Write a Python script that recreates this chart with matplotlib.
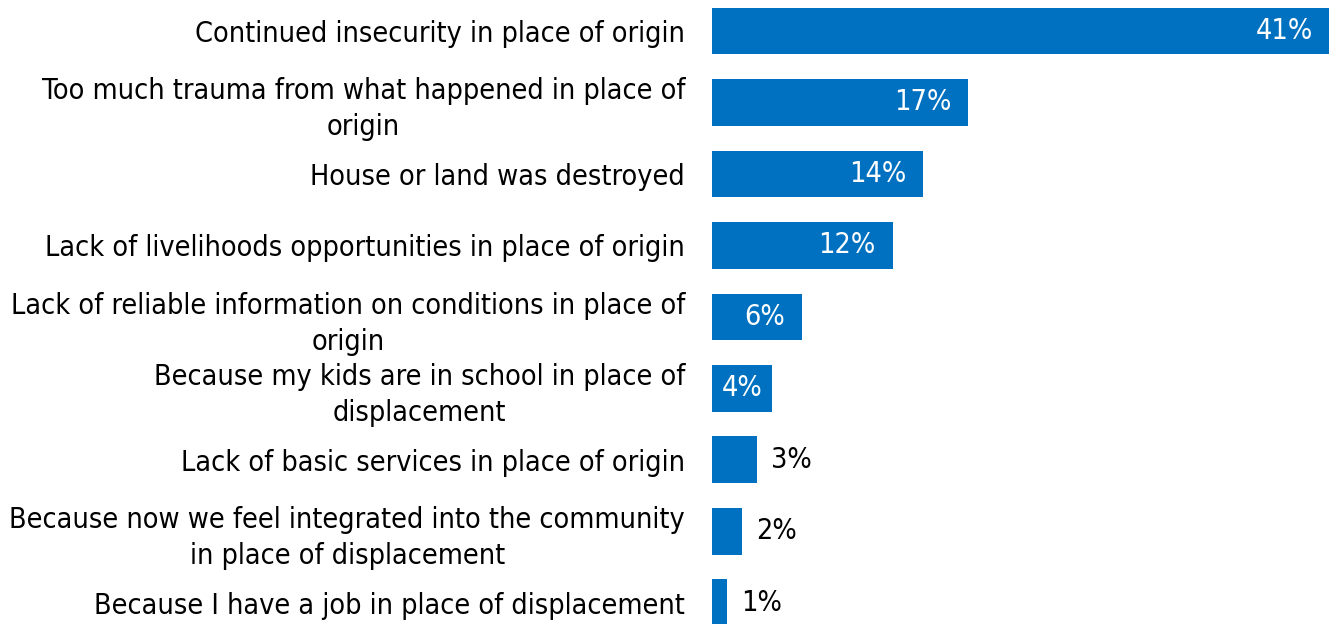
import matplotlib
matplotlib.use("Agg")
import matplotlib.pyplot as plt

# Reasons for not returning to the place of origin (% of respondents)
categories = [
    "Continued insecurity in place of origin",
    "Too much trauma from what happened in place of\norigin",
    "House or land was destroyed",
    "Lack of livelihoods opportunities in place of origin",
    "Lack of reliable information on conditions in place of\norigin",
    "Because my kids are in school in place of\ndisplacement",
    "Lack of basic services in place of origin",
    "Because now we feel integrated into the community\nin place of displacement",
    "Because I have a job in place of displacement",
]
values = [41, 17, 14, 12, 6, 4, 3, 2, 1]
value_labels = [f"{v}%" for v in values]

BAR_COLOR = "#0070C0"
FONT = dict(family="DejaVu Sans", stretch="condensed", size=20.6)

W, H, DPI = 1331, 624, 100
fig = plt.figure(figsize=(W / DPI, H / DPI), dpi=DPI)
fig.patch.set_facecolor("white")

left_px = 712
ax = fig.add_axes([left_px / W, 0, (W - left_px) / W, 1])

ypos = list(range(len(values)))
ax.barh(ypos, values, height=0.657, color=BAR_COLOR, edgecolor="none")

ax.set_xlim(0, 41.1)
ax.set_ylim(8.294, -0.4336)

ax.set_yticks(ypos)
ax.set_yticklabels(categories, multialignment="center", linespacing=1.35, **FONT)
ax.tick_params(axis="y", length=0, pad=19.4)
ax.set_xticks([])
for s in ax.spines.values():
    s.set_visible(False)

for y, v, lab in zip(ypos, values, value_labels):
    if v >= 5:
        ax.annotate(lab, (v, y), xytext=(-12.2, 0), textcoords="offset points",
                    ha="right", va="center", color="white", **FONT)
    elif v >= 4:
        ax.annotate(lab, (v / 2, y), ha="center", va="center",
                    color="white", **FONT)
    else:
        ax.annotate(lab, (v, y), xytext=(10, 0), textcoords="offset points",
                    ha="left", va="center", color="black", **FONT)

fig.savefig("out.png", dpi=DPI, facecolor="white")
